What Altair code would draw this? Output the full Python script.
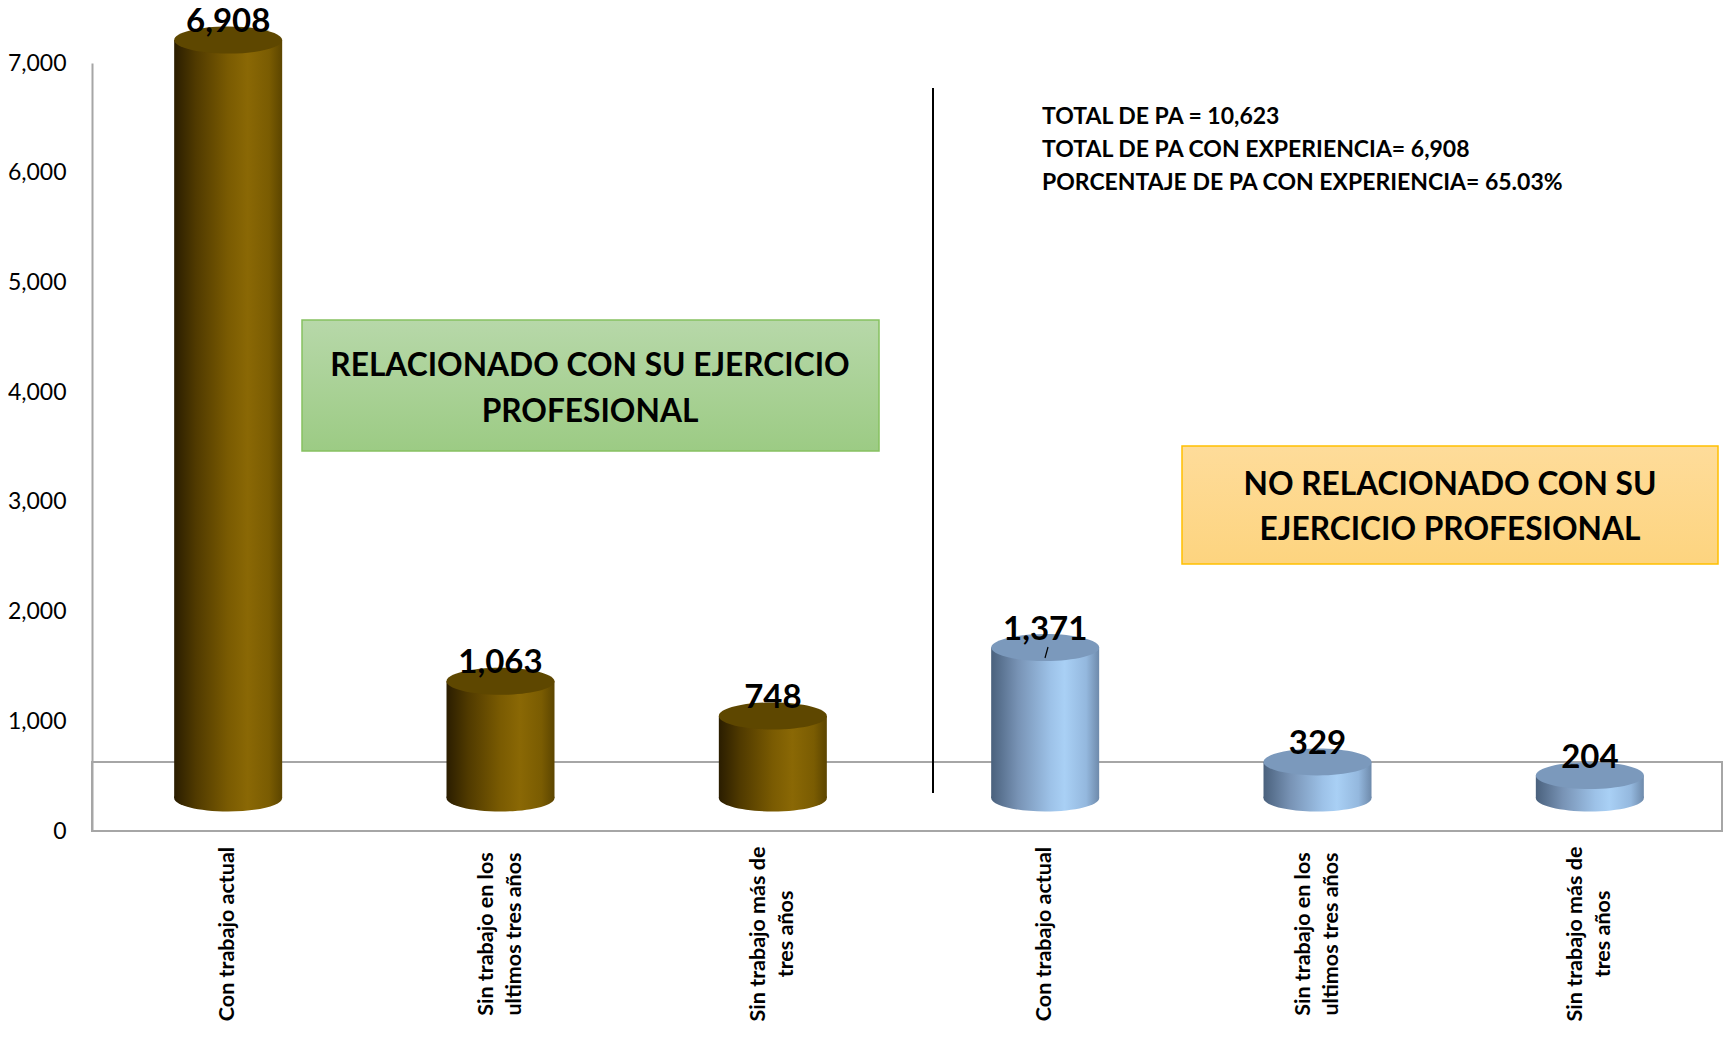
import altair as alt
import pandas as pd

# ---------------- data ----------------
keys = ["r1", "r2", "r3", "n1", "n2", "n3"]
label_line1 = ["Con trabajo actual", "Sin trabajo en los", "Sin trabajo más de",
               "Con trabajo actual", "Sin trabajo en los", "Sin trabajo más de"]
label_line2 = ["", "ultimos tres años", "tres años",
               "", "ultimos tres años", "tres años"]
values = [6908, 1063, 748, 1371, 329, 204]
groups = ["rel", "rel", "rel", "no", "no", "no"]
value_labels = ["6,908", "1,063", "748", "1,371", "329", "204"]
y_ticks = [0, 1000, 2000, 3000, 4000, 5000, 6000, 7000]
info_lines = [
    "TOTAL DE PA = 10,623",
    "TOTAL DE PA CON EXPERIENCIA= 6,908",
    "PORCENTAJE DE PA CON EXPERIENCIA= 65.03%",
]
box_rel_lines = ["RELACIONADO CON SU EJERCICIO", "PROFESIONAL"]
box_no_lines = ["NO RELACIONADO CON SU", "EJERCICIO PROFESIONAL"]

df = pd.DataFrame({"key": keys, "l1": label_line1, "l2": label_line2, "value": values,
                   "group": groups, "label": value_labels, "zero": [0] * 6})
one = pd.DataFrame({"a": [0]})

# ---------------- layout ----------------
W, H = 1631, 768
XRANGE = 1634        # category band range (the 3-D floor runs to the page edge)
DEPTH = -33          # 3-D depth shift of the cylinders
ELL = "M -1 0 A 1 0.25 0 1 0 1 0 A 1 0.25 0 1 0 -1 0 Z"
CYL_W = 108
FONT = "Lato"

def hgrad(stops):
    return {"gradient": "linear", "x1": 0, "x2": 1, "y1": 0, "y2": 0,
            "stops": [{"offset": o, "color": c} for o, c in stops]}

def vgrad(stops):
    return {"gradient": "linear", "x1": 0, "x2": 0, "y1": 0, "y2": 1,
            "stops": [{"offset": o, "color": c} for o, c in stops]}

brown = hgrad([(0, "#2a1d00"), (0.2, "#503a00"), (0.5, "#7a5b02"),
               (0.68, "#8a6805"), (0.88, "#7a5c02"), (1, "#5c4500")])
blue = hgrad([(0, "#4a617d"), (0.25, "#7893b5"), (0.55, "#9dc2e8"),
              (0.68, "#a9d0f5"), (0.88, "#94b8de"), (1, "#6e8aab")])
top_col = {"rel": "#5e4700", "no": "#7b99bc"}
body_col = {"rel": brown, "no": blue}

xenc = alt.X("key:N", sort=keys, axis=None,
             scale=alt.Scale(type="band", paddingInner=0, paddingOuter=0,
                             range=[0, XRANGE]))
yscale = alt.Scale(domain=[0, 7000], nice=False, zero=True)
yaxis = alt.Axis(values=y_ticks, format=",d")

def yv():
    return alt.Y("value:Q", scale=yscale, title=None, axis=yaxis)

def yz():
    return alt.Y("zero:Q", scale=yscale, title=None, axis=yaxis)

layers = []

# floor of the 3-D chart
layers.append(
    alt.Chart(df).transform_filter(alt.datum.key == "r1")
    .mark_rect(fill="transparent", stroke="#a6a6a6", strokeWidth=2, y2Offset=-69)
    .encode(x=alt.value(0), x2=alt.value(W - 1), y=yz(), y2=alt.Y2("zero:Q"))
)

for g in ["rel", "no"]:
    sub = alt.Chart(df).transform_filter(alt.datum.group == g)
    # bottom ellipse
    layers.append(
        sub.mark_point(shape=ELL, size=CYL_W ** 2, filled=True, fill=body_col[g],
                       opacity=1, strokeWidth=0, yOffset=DEPTH)
        .encode(x=xenc, y=yz())
    )
    # cylinder body
    layers.append(
        sub.mark_bar(size=CYL_W, fill=body_col[g], yOffset=DEPTH, y2Offset=DEPTH)
        .encode(x=xenc, y=yv(), y2=alt.Y2("zero:Q"))
    )
    # top ellipse
    layers.append(
        sub.mark_point(shape=ELL, size=CYL_W ** 2, filled=True, fill=top_col[g],
                       opacity=1, strokeWidth=0, yOffset=DEPTH)
        .encode(x=xenc, y=yv())
    )

# value labels
layers.append(
    alt.Chart(df).mark_text(font=FONT, fontWeight="bold", fontSize=33, color="black",
                            baseline="middle", yOffset=DEPTH - 18)
    .encode(x=xenc, y=yv(), text="label:N")
)

# category labels (rotated)
lab_style = dict(font=FONT, fontWeight="bold", fontSize=21.5, color="black",
                 angle=270, align="center", baseline="middle")
LAB_Y = H + 103
layers.append(
    alt.Chart(df).transform_filter("datum.l2 == ''")
    .mark_text(**lab_style)
    .encode(x=xenc, y=alt.value(LAB_Y), text="l1:N")
)
layers.append(
    alt.Chart(df).transform_filter("datum.l2 != ''")
    .mark_text(xOffset=-14, **lab_style)
    .encode(x=xenc, y=alt.value(LAB_Y), text="l1:N")
)
layers.append(
    alt.Chart(df).transform_filter("datum.l2 != ''")
    .mark_text(xOffset=14, **lab_style)
    .encode(x=xenc, y=alt.value(LAB_Y), text="l2:N")
)

# small leader tick on the 1,371 cylinder
layers.append(
    alt.Chart(one).mark_rule(color="black", strokeWidth=1.2)
    .encode(x=alt.value(956), x2=alt.value(953), y=alt.value(584), y2=alt.value(595))
)

# divider line
layers.append(
    alt.Chart(one).mark_rule(color="black", strokeWidth=2)
    .encode(x=alt.value(841), y=alt.value(25), y2=alt.value(730))
)

# green box
layers.append(
    alt.Chart(one).mark_rect(fill=vgrad([(0, "#b7d8a9"), (1, "#9ccb84")]),
                             stroke="#86c160", strokeWidth=1.5)
    .encode(x=alt.value(210), x2=alt.value(787), y=alt.value(257), y2=alt.value(388))
)
layers.append(
    alt.Chart(one).mark_text(text=box_rel_lines, font=FONT, fontWeight="bold", fontSize=31.7,
                             color="black", align="center", baseline="middle", lineHeight=46)
    .encode(x=alt.value(498), y=alt.value(303))
)

# orange box
layers.append(
    alt.Chart(one).mark_rect(fill=vgrad([(0, "#fedc9a"), (1, "#fdd47f")]),
                             stroke="#ffc000", strokeWidth=1.5)
    .encode(x=alt.value(1090), x2=alt.value(1626), y=alt.value(383), y2=alt.value(501))
)
layers.append(
    alt.Chart(one).mark_text(text=box_no_lines, font=FONT, fontWeight="bold", fontSize=31.7,
                             color="black", align="center", baseline="middle", lineHeight=45)
    .encode(x=alt.value(1358), y=alt.value(422))
)

# info text
layers.append(
    alt.Chart(one).mark_text(text=info_lines, font=FONT, fontWeight="bold", fontSize=23,
                             color="black", align="left", baseline="middle", lineHeight=33)
    .encode(x=alt.value(950), y=alt.value(54))
)

chart = (
    alt.layer(*layers)
    .properties(width=W, height=H, autosize=alt.AutoSizeParams(type="none"),
                padding={"left": 84, "top": 55, "right": 0, "bottom": 190},
                background="white")
    .configure_view(strokeWidth=0)
    .configure_axisY(domainColor="#a6a6a6", domainWidth=2, ticks=False, grid=False,
                     labelFont=FONT, labelFontSize=23, labelColor="black",
                     labelPadding=26)
)

chart.save("out.html", embed_options={"renderer": "svg", "actions": False})
